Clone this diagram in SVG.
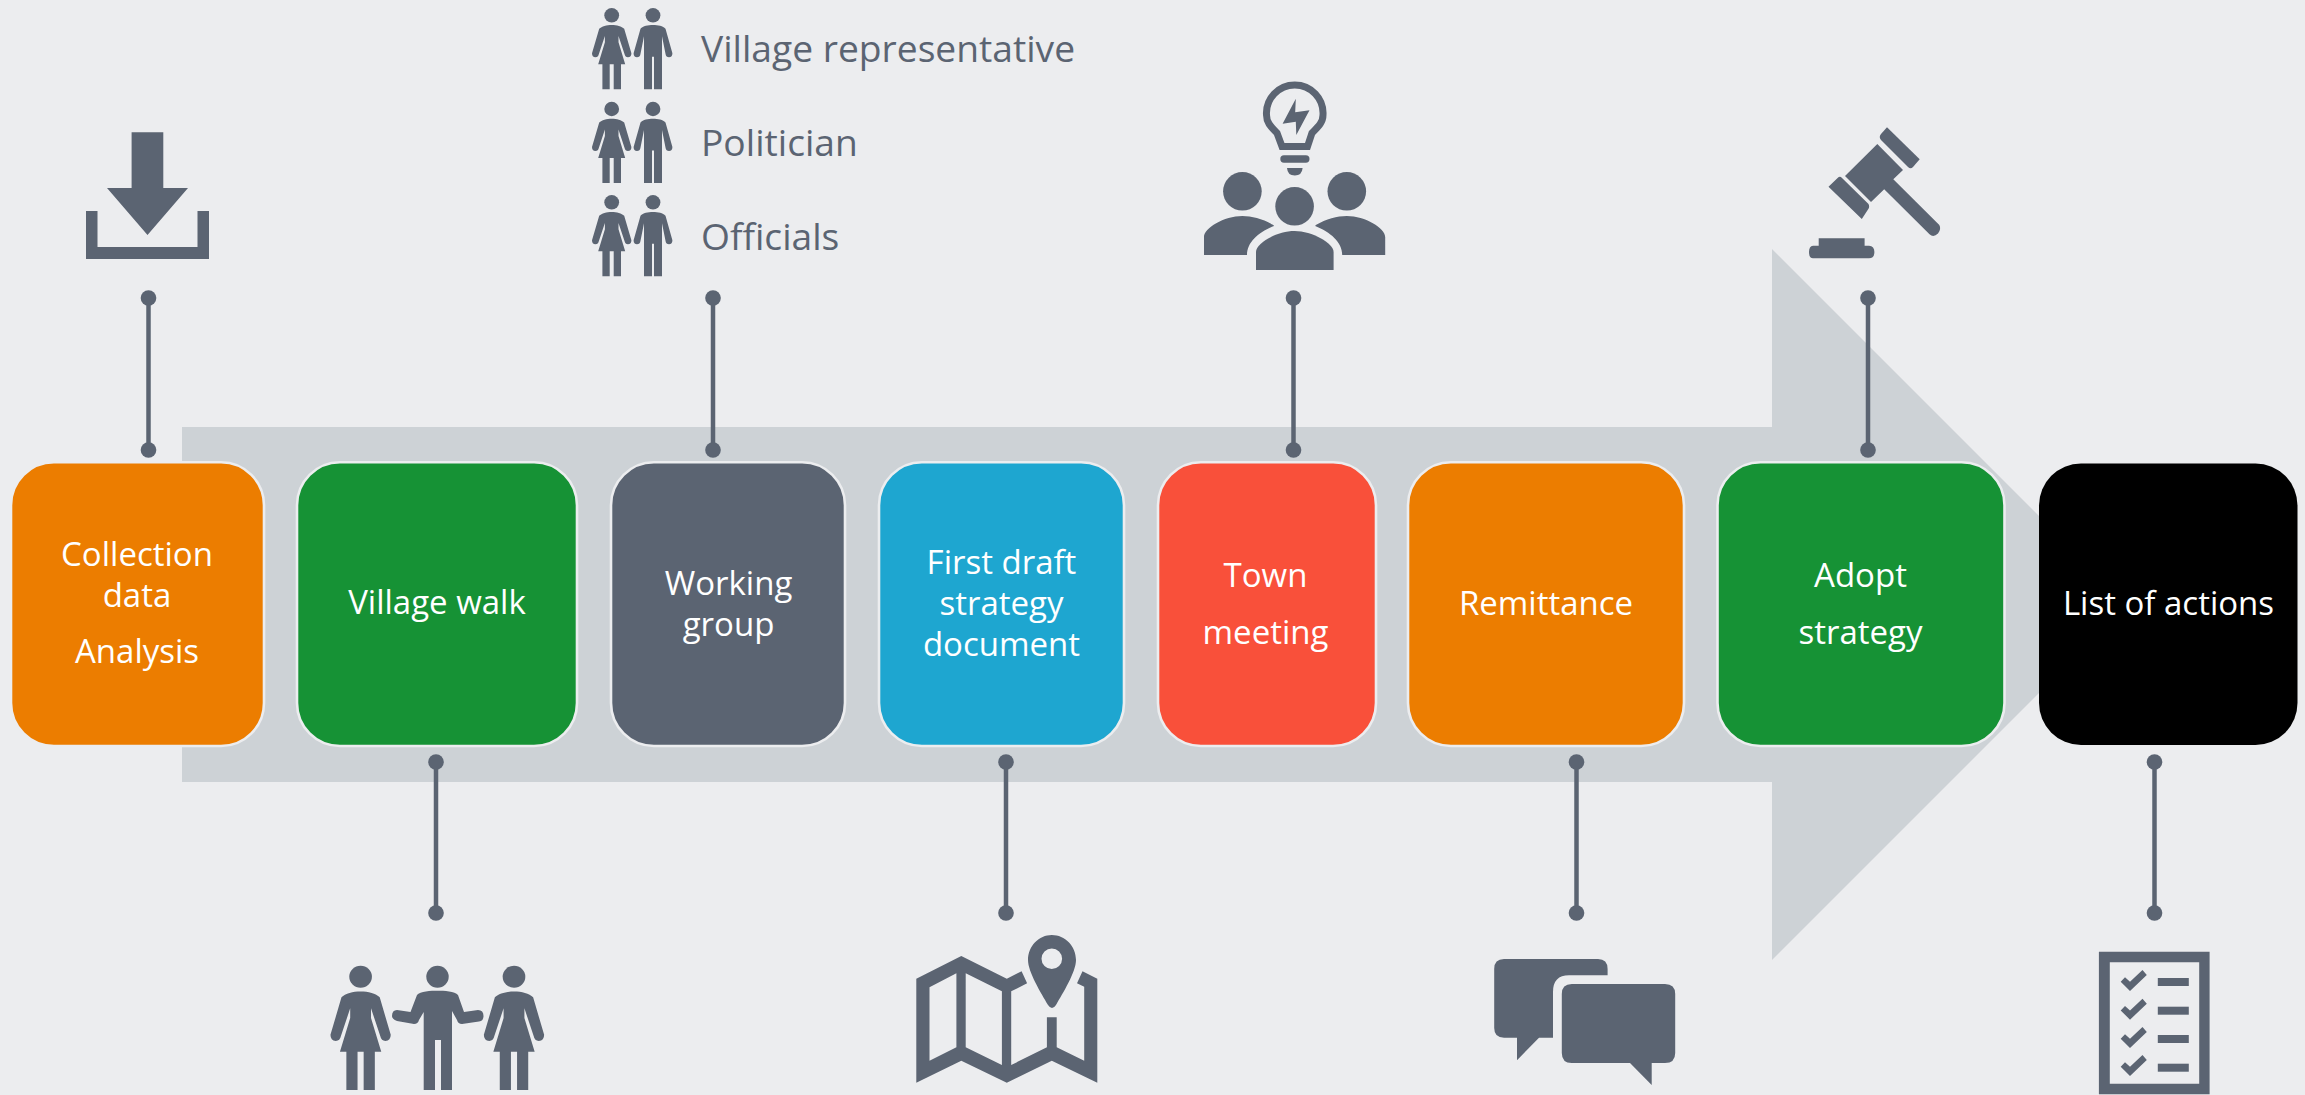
<svg xmlns="http://www.w3.org/2000/svg" xmlns:xlink="http://www.w3.org/1999/xlink" width="2305" height="1095" viewBox="0 0 2305 1095">
<style>
.ic{fill:#5b6472}
.box{stroke:#ecedef;stroke-width:2.6}
.nt{font-family:"Open Sans","Noto Sans",sans-serif;font-size:33px;fill:#fff;text-anchor:middle}
.lb{font-family:"Open Sans","Noto Sans",sans-serif;font-size:37.200px;fill:#5b6472}
.cn line{stroke:#5b6472;stroke-width:4.5}
.cn circle{fill:#5b6472}
</style>
<defs>
<g id="woman"><ellipse cx="0" cy="0" rx="7.4" ry="7.2"/><path d="M0,9.7C5,9.7 10,11 12.5,13.5L19.7,38Q19.7,42 16.2,42Q13.5,42 12.9,39L6.8,20.6V27L13.5,49H9.3V74H2V49H-2V74H-9.3V49H-13.5L-6.8,27V20.6L-12.9,39Q-13.5,42 -16.2,42Q-19.7,42 -19.7,38L-12.5,13.5C-10,11 -5,9.7 0,9.7Z"/></g>
<g id="man"><ellipse cx="0" cy="0" rx="7.4" ry="7.2"/><path d="M0,9.7C5,9.7 10,10.5 12.5,13.5L19.4,38Q19.4,42 16,42Q13,42 12.6,39L9,21V74H1V41.4H-1V74H-9V21L-12.6,39Q-13,42 -16,42Q-19.4,42 -19.4,38L-12.5,13.5C-10,10.5 -5,9.7 0,9.7Z"/></g>
<g id="couple"><use xlink:href="#woman" href="#woman" x="611.7" y="15.3"/><use xlink:href="#man" href="#man" x="653" y="15.3"/></g>
<path id="check" d="M2120.7,981.7L2125,977.3L2130,981.7L2142.5,970L2146.8,975L2130,991Z"/>
</defs>
<rect width="2305" height="1095" fill="#ecedef"/>
<path id="flow-arrow" fill="#cdd2d6" d="M182,427H1772V249L2127.5,604.5L1772,960V782H182Z"/>
<g id="connectors" class="cn">
<line x1="148.500" y1="298" x2="148.500" y2="450"/><circle cx="148.500" cy="298" r="7.800"/><circle cx="148.500" cy="450" r="7.800"/>
<line x1="713" y1="298" x2="713" y2="450"/><circle cx="713" cy="298" r="7.800"/><circle cx="713" cy="450" r="7.800"/>
<line x1="1293.500" y1="298" x2="1293.500" y2="450"/><circle cx="1293.500" cy="298" r="7.800"/><circle cx="1293.500" cy="450" r="7.800"/>
<line x1="1868" y1="298" x2="1868" y2="450"/><circle cx="1868" cy="298" r="7.800"/><circle cx="1868" cy="450" r="7.800"/>
<line x1="436" y1="762" x2="436" y2="913"/><circle cx="436" cy="762" r="7.800"/><circle cx="436" cy="913" r="7.800"/>
<line x1="1006" y1="762" x2="1006" y2="913"/><circle cx="1006" cy="762" r="7.800"/><circle cx="1006" cy="913" r="7.800"/>
<line x1="1576.500" y1="762" x2="1576.500" y2="913"/><circle cx="1576.500" cy="762" r="7.800"/><circle cx="1576.500" cy="913" r="7.800"/>
<line x1="2154.500" y1="762" x2="2154.500" y2="913"/><circle cx="2154.500" cy="762" r="7.800"/><circle cx="2154.500" cy="913" r="7.800"/>
</g>
<g id="node-collection"><rect class="box" x="11" y="462.300" width="253" height="283.700" rx="43" fill="#ec7d00"/><text class="nt" x="137" y="565.500">Collection</text><text class="nt" x="137" y="606.500">data</text><text class="nt" x="137" y="663">Analysis</text></g>
<g id="node-village-walk"><rect class="box" x="297" y="462.300" width="280" height="283.700" rx="43" fill="#169235"/><text class="nt" x="437" y="614">Village walk</text></g>
<g id="node-working-group"><rect class="box" x="611" y="462.300" width="234" height="283.700" rx="43" fill="#5b6472"/><text class="nt" x="728.500" y="595">Working</text><text class="nt" x="728.500" y="636">group</text></g>
<g id="node-first-draft"><rect class="box" x="879" y="462.300" width="245" height="283.700" rx="43" fill="#1ea6d0"/><text class="nt" x="1001.500" y="574">First draft</text><text class="nt" x="1001.500" y="615">strategy</text><text class="nt" x="1001.500" y="656">document</text></g>
<g id="node-town-meeting"><rect class="box" x="1158" y="462.300" width="218" height="283.700" rx="43" fill="#f9503a"/><text class="nt" x="1265.500" y="587">Town</text><text class="nt" x="1265.500" y="644">meeting</text></g>
<g id="node-remittance"><rect class="box" x="1408" y="462.300" width="276" height="283.700" rx="43" fill="#ec7d00"/><text class="nt" x="1546" y="615">Remittance</text></g>
<g id="node-adopt-strategy"><rect class="box" x="1717.500" y="462.300" width="287" height="283.700" rx="43" fill="#169235"/><text class="nt" x="1860.500" y="587">Adopt</text><text class="nt" x="1860.500" y="644">strategy</text></g>
<g id="node-list-of-actions"><rect x="2039" y="463.500" width="258.500" height="281.500" rx="42" fill="#000"/><text class="nt" x="2168.500" y="615">List of actions</text></g>
<g id="icon-download" class="ic"><path d="M131.600,132.300H163.300V188H188L147.500,235L107,188H131.600Z"/><path d="M86,211H97.500V247H197.500V211H209V259H86Z"/></g>
<g id="icon-roles" class="ic"><use xlink:href="#couple" href="#couple"/><use xlink:href="#couple" href="#couple" y="93.700"/><use xlink:href="#couple" href="#couple" y="187"/><text class="lb" x="701" y="62">Village representative</text><text class="lb" x="701" y="156">Politician</text><text class="lb" x="701" y="250">Officials</text></g>
<g id="icon-meeting" class="ic">
<path d="M1282,146.500H1307.500L1312,133C1319,126 1323,122 1323,115A28.300,28.300 0 1 0 1266.500,115C1266.500,122 1270,126 1277,133Z" stroke="#5b6472" stroke-width="7" style="fill:none"/>
<path d="M1295.800,98.700L1295.200,112.300L1309.500,110.300L1296.300,135L1295.800,121.700L1282.600,123.700Z"/>
<rect x="1280.300" y="155.300" width="29.200" height="7.400" rx="3.700"/>
<path d="M1287,168H1302.600Q1302,175.500 1294.800,175.500Q1287.500,175.500 1287,168Z"/>
<ellipse cx="1242.400" cy="191.300" rx="19.300" ry="19.300"/><ellipse cx="1346.800" cy="191.300" rx="19.300" ry="19.300"/><ellipse cx="1294.600" cy="206.300" rx="19.300" ry="19.300"/>
<path d="M1294.600,231C1312,231 1333.600,243 1333.600,252V270H1256V252C1256,243 1277,231 1294.600,231Z"/>
<path d="M1242.400,216C1252,216 1263,219 1273.400,225L1274,226C1259,232 1247,242 1247,255H1204V237C1204,228 1224,216 1242.400,216Z"/>
<path transform="translate(2589.200 0) scale(-1 1)" d="M1242.400,216C1252,216 1263,219 1273.400,225L1274,226C1259,232 1247,242 1247,255H1204V237C1204,228 1224,216 1242.400,216Z"/>
</g>
<g id="icon-gavel" class="ic">
<path d="M1887,127.300L1919.700,159.300L1913,167Q1910.600,169.500 1908,167L1881,140Q1878.500,137 1881,134Z"/>
<path d="M1877.300,144L1903,170L1893.300,179.300L1939.300,225Q1941.500,229 1938,233.500Q1933.500,238 1929.500,234.300L1884.200,189.300L1871,202L1845,176Z"/>
<path d="M1837.600,178Q1840,175.500 1842,178L1868.500,204Q1870,207 1868,209.500L1861.800,219L1828.500,186.700Z"/>
<path d="M1818.700,238.300H1864.600V245.700H1869Q1874.400,246 1874.400,252Q1874.400,258.300 1869,258.300H1813Q1809,258.300 1809,252Q1809,246 1813,245.700H1818.700Z"/>
</g>
<g id="icon-walk" class="ic">
<use xlink:href="#woman" href="#woman" transform="translate(360.600 976.700) scale(1.53)"/>
<use xlink:href="#woman" href="#woman" transform="translate(514 976.700) scale(1.53)"/>
<ellipse cx="437.500" cy="976.700" rx="11.200" ry="11"/>
<path d="M437.500,990.700C444,990.700 455,991 458,995L464,1012L478,1010Q483.500,1010 483.500,1016Q483.500,1021 479,1021.500L462,1024Q458,1024 457,1020L452,1011V1090H441V1040H435V1090H423.700V1012L419,1020Q418,1024 414,1024L397,1021Q392,1019 392,1016Q392,1010 397,1010L410.500,1012L417,995C420,991 431,990.700 437.500,990.700Z"/>
</g>
<g id="icon-map" class="ic">
<path fill-rule="evenodd" d="M916.300,978.700L961.300,956L1006.800,978.700L1021.600,971.300L1027.100,983.300L1011.200,991.300V1065L1046.900,1047.300V1017.300H1056.700V1047.300L1084.200,1060.700V986.700L1077,983.300L1082.500,971.300L1097.300,978.700V1082.700L1051.800,1060.700L1006.800,1082.700L961.300,1060.700L916.300,1082.700ZM929.500,987.300V1060.700L956.400,1047.300V973.300ZM965.700,973.300V1047.300L1001.900,1065V991.300Z"/>
<path fill-rule="evenodd" d="M1051.800,935C1065,935 1076,946 1076,960C1076,972 1063,993 1056,1005Q1052,1011 1048,1005C1041,993 1028,972 1028,960C1028,946 1039,935 1051.800,935ZM1051.800,948.400A10.300,10.300 0 1 0 1051.800,969A10.300,10.300 0 1 0 1051.800,948.400Z"/>
</g>
<g id="icon-chat" class="ic">
<path d="M1504,959H1598Q1607.600,959 1607.600,969V975.300H1569Q1553,975.300 1553,992V1037.700H1539L1517,1060.300V1037.700H1504Q1494.200,1037.700 1494.200,1028V969Q1494.200,959 1504,959Z"/>
<path d="M1571.800,984H1665Q1675.200,984 1675.200,994V1053Q1675.200,1063 1665,1063H1651.700V1085L1630,1063H1571.800Q1561.800,1063 1561.800,1053V994Q1561.800,984 1571.800,984Z"/>
</g>
<g id="icon-checklist" class="ic">
<path fill-rule="evenodd" d="M2098.900,951.700H2209.600V1094.300H2098.900ZM2109.800,962.300V1083.700H2199.200V962.300Z"/>
<use xlink:href="#check" href="#check"/><use xlink:href="#check" href="#check" y="28.700"/><use xlink:href="#check" href="#check" y="57"/><use xlink:href="#check" href="#check" y="85"/>
<rect x="2157.800" y="978" width="31" height="8"/><rect x="2157.800" y="1006.700" width="31" height="8"/><rect x="2157.800" y="1035" width="31" height="8"/><rect x="2157.800" y="1063.700" width="31" height="8"/>
</g>
</svg>
